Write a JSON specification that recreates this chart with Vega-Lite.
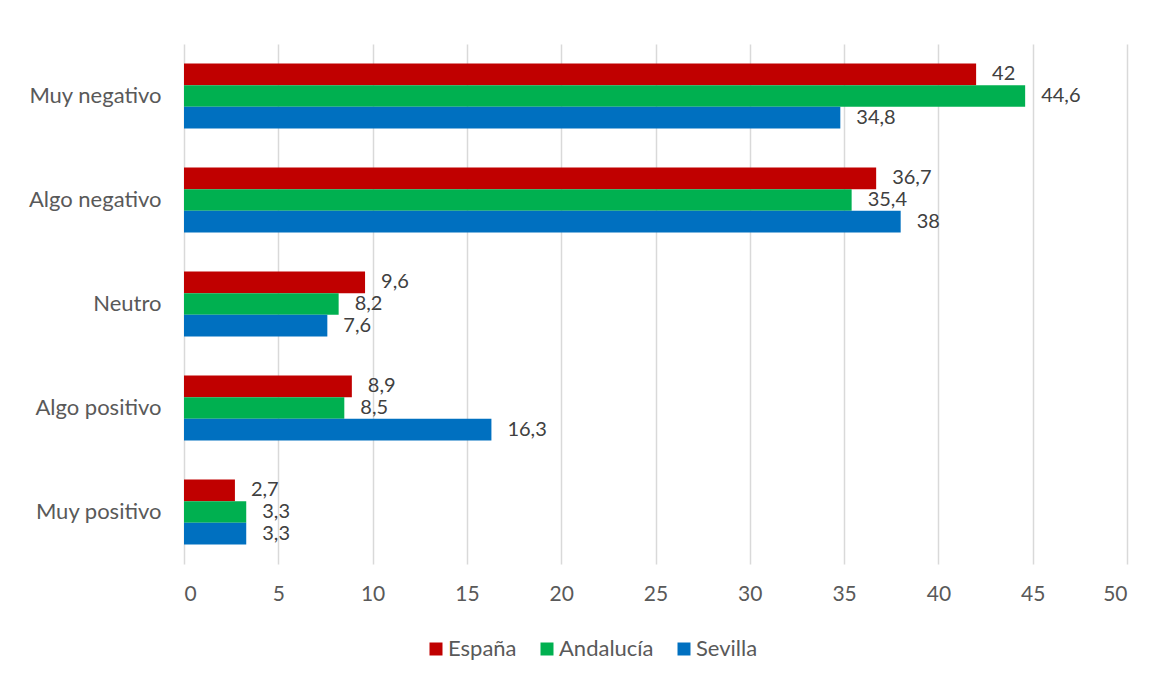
{
  "$schema": "https://vega.github.io/schema/vega-lite/v6.json",
  "width": 943,
  "height": 520,
  "autosize": {"type": "none"},
  "padding": {"left": 184, "top": 44, "right": 25, "bottom": 116},
  "background": "white",
  "config": {
    "font": "Lato",
    "view": {"stroke": null},
    "locale": {"number": {"decimal": ",", "thousands": ".", "grouping": [3], "currency": ["", " €"]}}
  },
  "data": {
    "values": [
      {"cat": "Muy negativo", "serie": "España", "v": 42},
      {"cat": "Muy negativo", "serie": "Andalucía", "v": 44.6},
      {"cat": "Muy negativo", "serie": "Sevilla", "v": 34.8},
      {"cat": "Algo negativo", "serie": "España", "v": 36.7},
      {"cat": "Algo negativo", "serie": "Andalucía", "v": 35.4},
      {"cat": "Algo negativo", "serie": "Sevilla", "v": 38},
      {"cat": "Neutro", "serie": "España", "v": 9.6},
      {"cat": "Neutro", "serie": "Andalucía", "v": 8.2},
      {"cat": "Neutro", "serie": "Sevilla", "v": 7.6},
      {"cat": "Algo positivo", "serie": "España", "v": 8.9},
      {"cat": "Algo positivo", "serie": "Andalucía", "v": 8.5},
      {"cat": "Algo positivo", "serie": "Sevilla", "v": 16.3},
      {"cat": "Muy positivo", "serie": "España", "v": 2.7},
      {"cat": "Muy positivo", "serie": "Andalucía", "v": 3.3},
      {"cat": "Muy positivo", "serie": "Sevilla", "v": 3.3}
    ]
  },
  "encoding": {
    "y": {
      "field": "cat", "type": "nominal",
      "sort": ["Muy negativo", "Algo negativo", "Neutro", "Algo positivo", "Muy positivo"],
      "scale": {"paddingInner": 0.375, "paddingOuter": 0.1875},
      "axis": {"title": null, "domain": false, "ticks": false, "labelFontSize": 22, "labelColor": "#595959", "labelPadding": 23}
    },
    "yOffset": {
      "field": "serie", "type": "nominal",
      "sort": ["España", "Andalucía", "Sevilla"],
      "scale": {"paddingInner": 0, "paddingOuter": 0}
    },
    "x": {
      "field": "v", "type": "quantitative",
      "scale": {"domain": [0, 50], "nice": false},
      "axis": {
        "title": null, "domain": false, "ticks": false,
        "values": [0, 5, 10, 15, 20, 25, 30, 35, 40, 45, 50],
        "labelFontSize": 21, "labelColor": "#595959", "labelPadding": 19,
        "gridColor": "#d9d9d9", "gridWidth": 1.5, "format": "d"
      }
    }
  },
  "layer": [
    {
      "mark": {"type": "bar"},
      "encoding": {
        "color": {
          "field": "serie", "type": "nominal",
          "sort": ["España", "Andalucía", "Sevilla"],
          "scale": {"domain": ["España", "Andalucía", "Sevilla"], "range": ["#C00000", "#00B050", "#0070C0"]},
          "legend": {
            "title": null, "orient": "none", "direction": "horizontal",
            "legendX": 241, "legendY": 594,
            "symbolType": "square", "symbolSize": 169, "symbolStrokeWidth": 0,
            "labelFontSize": 22, "labelColor": "#595959", "labelOffset": 1,
            "columnPadding": 19
          }
        }
      }
    },
    {
      "mark": {"type": "text", "align": "left", "baseline": "middle", "dx": 16, "fontSize": 20, "color": "#404040"},
      "encoding": {
        "text": {"field": "v", "type": "quantitative", "format": ".1~f"}
      }
    }
  ]
}
